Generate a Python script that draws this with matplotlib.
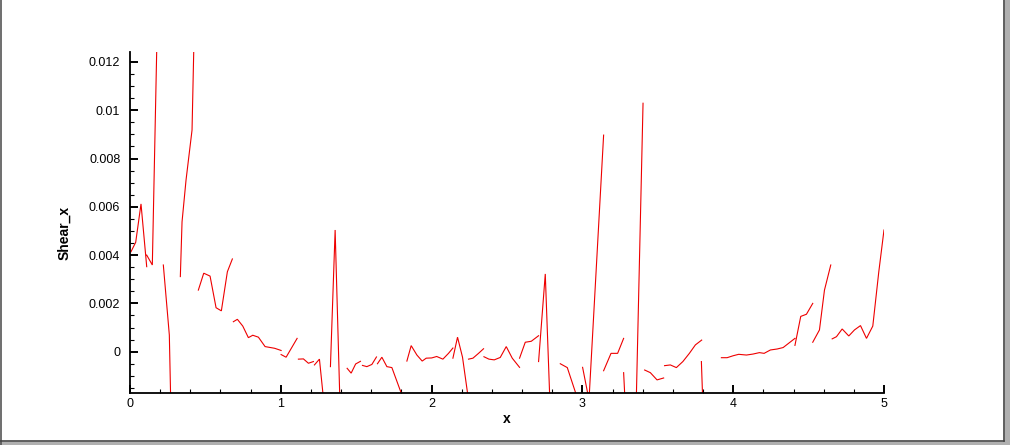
import numpy as np
import matplotlib.pyplot as plt
from matplotlib.lines import Line2D
from matplotlib.ticker import MultipleLocator, FuncFormatter

nan = np.nan

# element-wise shear values, broken pieces separated by nan
x_vals = [
    0.0066, 0.0378, 0.0730, 0.1108, nan,
    0.1108, 0.1480, 0.1845, nan,
    0.2210, 0.2608, 0.2973, nan,
    0.3338, 0.3451, 0.3716, 0.4114, 0.4413, nan,
    0.4532, 0.4890, 0.5309, 0.5707, 0.6058, 0.6457, 0.6788, nan,
    0.6854, 0.7120, 0.7478, 0.7850, 0.8142, 0.8514, 0.8958, 0.9589, 1.0020, nan,
    1.0020, 1.0352, 1.1082, nan,
    1.1168, 1.1500, 1.1832, 1.2163, nan,
    1.2230, 1.2562, 1.2926, nan,
    1.3291, 1.3603, 1.3968, nan,
    1.4399, 1.4665, 1.4963, 1.5282, nan,
    1.5415, 1.5707, 1.6038, 1.6344, nan,
    1.6410, 1.6702, 1.7034, 1.7366, 1.8082, nan,
    1.8361, 1.8646, 1.9025, 1.9376, 1.9642, 2.0007, 2.0338, 2.0749, 2.1121, 2.1413, nan,
    2.1413, 2.1719, 2.2050, 2.2429, nan,
    2.2449, 2.2741, 2.3112, 2.3444, nan,
    2.3471, 2.3802, 2.4154, 2.4552, 2.4950, 2.5348, 2.5833, nan,
    2.5833, 2.6211, 2.6609, 2.7094, nan,
    2.7094, 2.7538, 2.7903, nan,
    2.8533, 2.8998, 2.9595, nan,
    3.0013, 3.0438, 3.1407, nan,
    3.1407, 3.1898, 3.2336, 3.2734, nan,
    3.2734, 3.3112, nan,
    3.3543, 3.4021, nan,
    3.4127, 3.4506, 3.4950, 3.5388, nan,
    3.5448, 3.5833, 3.6231, 3.6662, 3.7094, 3.7492, 3.7910, nan,
    3.7890, 3.8255, nan,
    3.9217, 3.9595, 3.9993, 4.0365, 4.0876, 4.1307, 4.1738, 4.2050, 4.2468, 4.2913,
    4.3311, 4.3683, 4.4094, nan,
    4.4094, 4.4479, 4.4857, 4.5275, nan,
    4.5275, 4.5720, 4.6052, 4.6470, nan,
    4.6563, 4.6848, 4.7226, 4.7664, 4.8042, 4.8441, 4.8839, 4.9257, 4.9655, 5.0000,
]

y_vals = [
    0.00414, 0.00453, 0.00612, 0.00352, nan,
    0.00400, 0.00359, 0.01473, nan,
    0.00359, 0.00069, -0.01020, nan,
    0.00311, 0.00538, 0.00711, 0.00918, 0.01788, nan,
    0.00255, 0.00325, 0.00313, 0.00182, 0.00169, 0.00331, 0.00384, nan,
    0.00124, 0.00134, 0.00106, 0.00058, 0.00068, 0.00060, 0.00021, 0.00014, 0.00005, nan,
    -0.00012, -0.00023, 0.00055, nan,
    -0.00031, -0.00030, -0.00048, -0.00041, nan,
    -0.00055, -0.00031, -0.00254, nan,
    -0.00062, 0.00504, -0.00316, nan,
    -0.00069, -0.00089, -0.00051, -0.00040, nan,
    -0.00057, -0.00062, -0.00053, -0.00022, nan,
    -0.00050, -0.00023, -0.00062, -0.00066, -0.00188, nan,
    -0.00039, 0.00025, -0.00014, -0.00039, -0.00027, -0.00026, -0.00020, -0.00031, -0.00007, 0.00015, nan,
    -0.00027, 0.00060, -0.00023, -0.00192, nan,
    -0.00031, -0.00027, -0.00007, 0.00012, nan,
    -0.00021, -0.00031, -0.00034, -0.00024, 0.00021, -0.00027, -0.00065, nan,
    -0.00027, 0.00039, 0.00043, 0.00066, nan,
    -0.00041, 0.00322, -0.00308, nan,
    -0.00050, -0.00066, -0.00179, nan,
    -0.00065, -0.00200, 0.00897, nan,
    -0.00079, -0.00007, -0.00007, 0.00055, nan,
    -0.00087, -0.00560, nan,
    -0.00283, 0.01029, nan,
    -0.00076, -0.00087, -0.00117, -0.00109, nan,
    -0.00058, -0.00055, -0.00066, -0.00041, -0.00007, 0.00028, 0.00048, nan,
    -0.00041, -0.00700, nan,
    -0.00025, -0.00025, -0.00017, -0.00011, -0.00014, -0.00010, -0.00004, -0.00007, 0.00007, 0.00011,
    0.00017, 0.00035, 0.00055, nan,
    0.00026, 0.00146, 0.00155, 0.00200, nan,
    0.00039, 0.00090, 0.00255, 0.00359, nan,
    0.00053, 0.00062, 0.00094, 0.00065, 0.00090, 0.00108, 0.00055, 0.00106, 0.00331, 0.00504,
]

plt.rcParams['font.family'] = ['Liberation Sans', 'DejaVu Sans']

W, H = 1010, 445
fig = plt.figure(figsize=(W / 100, H / 100), dpi=100)
ax = fig.add_axes([130 / W, 1 - 392.7 / H, (884 - 130) / W, (392.7 - 52.3) / H])

ax.plot(x_vals, y_vals, color='#ee0000', lw=0.8, solid_joinstyle='miter')

ax.set_xlim(0, 5)
ax.set_ylim(-0.0017, 0.0124)

ax.xaxis.set_major_locator(MultipleLocator(1))
ax.xaxis.set_minor_locator(MultipleLocator(0.2))
ax.yaxis.set_major_locator(MultipleLocator(0.002))
ax.yaxis.set_minor_locator(MultipleLocator(0.0005))
ax.yaxis.set_major_formatter(FuncFormatter(lambda v, p: '0' if abs(v) < 1e-12 else f'{v:g}'))

for side in ['top', 'right']:
    ax.spines[side].set_visible(False)
for side in ['left', 'bottom']:
    ax.spines[side].set_linewidth(1.3)

ax.tick_params(which='major', direction='in', length=6, width=1.4, labelsize=9, colors='black')
ax.tick_params(axis='y', which='major', pad=7)
ax.tick_params(axis='x', which='major', pad=4)
ax.tick_params(which='minor', direction='in', length=3, width=0.8)

ax.set_xlabel('x', fontsize=10, fontweight='bold', labelpad=1)
ax.set_ylabel('Shear_x', fontsize=10, fontweight='bold')
ax.yaxis.set_label_coords(-0.078, 0.47)

# window frame
fig.add_artist(Line2D([0.5 / W, 0.5 / W], [0, 1], color='#555555', lw=1.2, transform=fig.transFigure))
fig.add_artist(Line2D([1003.5 / W, 1003.5 / W], [1, 1 - 440.5 / H], color='#444444', lw=1.2,
                      transform=fig.transFigure))
fig.add_artist(Line2D([0, 1003.5 / W], [1 - 440.5 / H, 1 - 440.5 / H], color='#444444', lw=1.2,
                      transform=fig.transFigure))
fig.patches.append(plt.Rectangle((1004.5 / W, 0), 1, 1, color='#b0b0b0', transform=fig.transFigure,
                                 figure=fig))
fig.patches.append(plt.Rectangle((0, 0), 1, 1 - 441.5 / H, color='#b0b0b0', transform=fig.transFigure,
                                 figure=fig))

fig.savefig('out.png', dpi=100)
